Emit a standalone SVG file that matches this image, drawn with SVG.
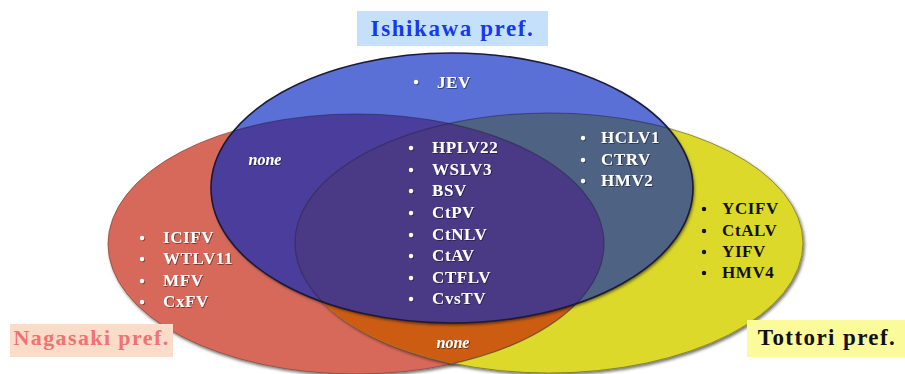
<svg xmlns="http://www.w3.org/2000/svg" width="905" height="374" viewBox="0 0 905 374">
  <defs>
    <style>
      .lbl { font-family: "Liberation Serif", "Times New Roman", serif; font-weight: bold; }
      .item { font-family: "Liberation Serif", "Times New Roman", serif; font-weight: bold; font-size: 17px; letter-spacing: 0.6px; }
      .w { fill: #ffffff; }
      .k { fill: #111111; }
      .none { font-family: "Liberation Serif", "Times New Roman", serif; font-style: italic; font-weight: bold; font-size: 16px; fill: #ffffff; }
      .edge { fill: none; stroke: #2a2440; stroke-opacity: 0.55; stroke-width: 1.2; }
    </style>
    <filter id="shadow" x="-10%" y="-10%" width="120%" height="125%">
      <feDropShadow dx="1.5" dy="2" stdDeviation="1.6" flood-color="#000000" flood-opacity="0.55"/>
    </filter>
    <filter id="txtShadow" x="-10%" y="-30%" width="120%" height="160%">
      <feDropShadow dx="0.8" dy="0.8" stdDeviation="0.6" flood-color="#000000" flood-opacity="0.55"/>
    </filter>
    <clipPath id="clipRed"><ellipse cx="356" cy="244" rx="248" ry="130"/></clipPath>
    <clipPath id="clipYellow"><ellipse cx="549" cy="243" rx="254" ry="130"/></clipPath>
    <clipPath id="clipBlue"><ellipse cx="452" cy="188" rx="241" ry="135"/></clipPath>
  </defs>

  <rect width="905" height="374" fill="#ffffff"/>

  <!-- Nagasaki set -->
  <g id="nagasaki">
    <ellipse cx="356" cy="244" rx="248" ry="130" fill="#d6695a" stroke="#8a4a40" stroke-width="0.8" filter="url(#shadow)"/>
  </g>

  <!-- Tottori set -->
  <g id="tottori">
    <ellipse cx="549" cy="243" rx="254" ry="130" fill="#dcd92c" stroke="#7c7a20" stroke-width="0.8" filter="url(#shadow)"/>
  </g>

  <!-- Nagasaki ∩ Tottori -->
  <g id="nagasaki-tottori">
    <ellipse cx="549" cy="243" rx="254" ry="130" fill="#cc5c12" clip-path="url(#clipRed)"/>
    <ellipse cx="356" cy="244" rx="248" ry="130" class="edge" clip-path="url(#clipYellow)"/>
  </g>

  <!-- Ishikawa set -->
  <g id="ishikawa">
    <ellipse cx="452" cy="188" rx="241" ry="135" fill="#5a6fd6" filter="url(#shadow)"/>
    <!-- Ishikawa ∩ Nagasaki -->
    <ellipse cx="356" cy="244" rx="248" ry="130" fill="#4b3d9b" clip-path="url(#clipBlue)"/>
    <!-- Ishikawa ∩ Tottori -->
    <ellipse cx="549" cy="243" rx="254" ry="130" fill="#4e6283" clip-path="url(#clipBlue)"/>
    <!-- all three -->
    <g clip-path="url(#clipBlue)">
      <ellipse cx="356" cy="244" rx="248" ry="130" fill="#4a3a86" clip-path="url(#clipYellow)"/>
    </g>
    <g clip-path="url(#clipBlue)">
      <ellipse cx="356" cy="244" rx="248" ry="130" class="edge"/>
      <ellipse cx="549" cy="243" rx="254" ry="130" class="edge"/>
    </g>
    <ellipse cx="452" cy="188" rx="241" ry="135" fill="none" stroke="#1c1a38" stroke-width="1.6"/>
  </g>

  <!-- set labels -->
  <g id="label-ishikawa">
    <rect x="357" y="11" width="191" height="35" fill="#c5e0fb"/>
    <text x="452.5" y="36" text-anchor="middle" class="lbl" font-size="23" letter-spacing="1.6" fill="#1638ee">Ishikawa pref.</text>
  </g>
  <g id="label-nagasaki">
    <rect x="10" y="324" width="163" height="33" fill="#fbdcc9"/>
    <text x="91.5" y="345" text-anchor="middle" class="lbl" font-size="22" letter-spacing="1.4" fill="#f07272">Nagasaki pref.</text>
  </g>
  <g id="label-tottori">
    <rect x="747" y="320" width="158" height="37" fill="#fbfb9c"/>
    <text x="827" y="345" text-anchor="middle" class="lbl" font-size="23" letter-spacing="1.4" fill="#111111">Tottori pref.</text>
  </g>

  <!-- Ishikawa only -->
  <g id="list-ishikawa" class="item w" filter="url(#txtShadow)">
    <circle cx="416" cy="82" r="2.2"/>
    <text x="437" y="88">JEV</text>
  </g>

  <!-- all three -->
  <g id="list-all" class="item w" filter="url(#txtShadow)">
    <circle cx="411" cy="148" r="2.2"/><text x="432" y="153">HPLV22</text>
    <circle cx="411" cy="170" r="2.2"/><text x="432" y="175">WSLV3</text>
    <circle cx="411" cy="191" r="2.2"/><text x="432" y="196">BSV</text>
    <circle cx="411" cy="213" r="2.2"/><text x="432" y="218">CtPV</text>
    <circle cx="411" cy="235" r="2.2"/><text x="432" y="240">CtNLV</text>
    <circle cx="411" cy="256" r="2.2"/><text x="432" y="261">CtAV</text>
    <circle cx="411" cy="278" r="2.2"/><text x="432" y="283">CTFLV</text>
    <circle cx="411" cy="299" r="2.2"/><text x="432" y="304">CvsTV</text>
  </g>

  <!-- Nagasaki only -->
  <g id="list-nagasaki" class="item w" filter="url(#txtShadow)">
    <circle cx="142" cy="238" r="2.2"/><text x="163" y="243">ICIFV</text>
    <circle cx="142" cy="259" r="2.2"/><text x="163" y="264">WTLV11</text>
    <circle cx="142" cy="281" r="2.2"/><text x="163" y="286">MFV</text>
    <circle cx="142" cy="302" r="2.2"/><text x="163" y="307">CxFV</text>
  </g>

  <!-- Ishikawa ∩ Tottori -->
  <g id="list-ishikawa-tottori" class="item w" filter="url(#txtShadow)">
    <circle cx="583" cy="138" r="2.2"/><text x="601" y="143">HCLV1</text>
    <circle cx="583" cy="160" r="2.2"/><text x="601" y="165">CTRV</text>
    <circle cx="583" cy="181" r="2.2"/><text x="601" y="186">HMV2</text>
  </g>

  <!-- Tottori only -->
  <g id="list-tottori" class="item k">
    <circle cx="704" cy="209" r="2.2"/><text x="722" y="214">YCIFV</text>
    <circle cx="704" cy="231" r="2.2"/><text x="722" y="236">CtALV</text>
    <circle cx="704" cy="252" r="2.2"/><text x="722" y="257">YIFV</text>
    <circle cx="704" cy="273" r="2.2"/><text x="722" y="278">HMV4</text>
  </g>

  <!-- empty intersections -->
  <g id="empty-labels" filter="url(#txtShadow)">
    <text x="265" y="165" text-anchor="middle" class="none">none</text>
    <text x="453" y="348" text-anchor="middle" class="none">none</text>
  </g>
</svg>
